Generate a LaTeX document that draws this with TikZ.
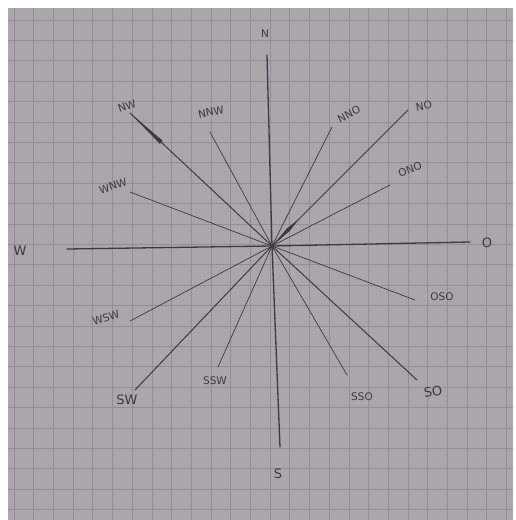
\documentclass[tikz,border=0pt]{standalone}
\usepackage{fontspec}
\setsansfont{DejaVu Sans}
\usetikzlibrary{calc}
\definecolor{paper}{RGB}{170,167,171}
\definecolor{gridline}{RGB}{145,142,148}
\definecolor{ink}{RGB}{58,58,64}
\tikzset{
  ray-main/.style={draw=ink,line width=1.3pt,line cap=round},
  ray-half/.style={draw=ink,line width=1.0pt,line cap=round},
  ray-quarter/.style={draw=ink,line width=0.7pt,line cap=round},
  lbl/.style={text=ink,font=\sffamily\fontsize{10.5}{10.5}\selectfont,inner sep=1pt},
  lbl-big/.style={text=ink,font=\sffamily\fontsize{13}{13}\selectfont,inner sep=1pt},
}

\begin{document}
\begin{tikzpicture}[x=1pt,y=-1pt]

  \useasboundingbox (0,0) rectangle (516,520);
  \fill[white] (0,0) rectangle (516,520);
  \fill[paper] (8,8) rectangle (513,520);

  % squared paper
  \foreach \gx in {0,...,25}
    \draw[gridline,line width=0.8pt] ({14+19.7*\gx},8) -- ({14+19.7*\gx},520);
  \foreach \gy in {0,...,25}
    \draw[gridline,line width=0.8pt] (8,{20+20.4*\gy}) -- (513,{20+20.4*\gy});

  % centre of the rose
  \coordinate (c) at (272,246);

  % ray ends
  \coordinate (eN)   at (267,55);
  \coordinate (eS)   at (280,447);
  \coordinate (eW)   at (67,249);
  \coordinate (eO)   at (470,242);
  \coordinate (eNW)  at (130,113);
  \coordinate (eNO)  at (408,110);
  \coordinate (eSW)  at (135,390);
  \coordinate (eSO)  at (417,380);
  \coordinate (eNNW) at (210,132);
  \coordinate (eNNO) at (332,127);
  \coordinate (eWNW) at (130,192);
  \coordinate (eONO) at (390,185);
  \coordinate (eWSW) at (130,321);
  \coordinate (eOSO) at (415,300);
  \coordinate (eSSW) at (218,367);
  \coordinate (eSSO) at (347,375);

  % labels
  \node[lbl]     (lN)   at (265,34)  {N};
  \node[lbl-big] (lS)   at (278,474) {S};
  \node[lbl-big] (lW)   at (20,251)  {W};
  \node[lbl-big] (lO)   at (487,243) {O};
  \node[lbl,rotate=20]  (lNW)  at (127,106) {NW};
  \node[lbl,rotate=10]  (lNO)  at (424,106) {NO};
  \node[lbl-big] (lSW)  at (127,400) {SW};
  \node[lbl-big,rotate=8] (lSO)  at (433,392) {SO};
  \node[lbl,rotate=12]  (lNNW) at (211,112) {NNW};
  \node[lbl,rotate=28]  (lNNO) at (349,114) {NNO};
  \node[lbl,rotate=18]  (lWNW) at (113,186) {WNW};
  \node[lbl,rotate=22]  (lONO) at (410,169) {ONO};
  \node[lbl,rotate=18]  (lWSW) at (106,318) {WSW};
  \node[lbl]     (lOSO) at (442,297) {OSO};
  \node[lbl]     (lSSW) at (215,381) {SSW};
  \node[lbl]     (lSSO) at (362,397) {SSO};

  % main rays
  \draw[ray-main] (eN) -- (c) -- (eS);
  \draw[ray-main] (eW) -- (c) -- (eO);

  % half rays
  \draw[ray-half] (eNW) -- (c) -- (eSO);
  \draw[ray-half] (eNO) -- (c) -- (eSW);
  \fill[ink] (eNW) -- ($(eNW)!0.22!(c)+(1.5,-1.5)$) -- ($(eNW)!0.22!(c)$) -- ($(eNW)!0.22!(c)+(-1.5,1.5)$) -- cycle;
  \fill[ink] (c) -- ($(c)!0.12!(eNO)+(1.3,1.3)$) -- ($(c)!0.2!(eNO)$) -- ($(c)!0.12!(eNO)+(-1.3,-1.3)$) -- cycle;

  % quarter rays
  \draw[ray-quarter] (eNNW) -- (c);
  \draw[ray-quarter] (eNNO) -- (c);
  \draw[ray-quarter] (eWNW) -- (c);
  \draw[ray-quarter] (eONO) -- (c);
  \draw[ray-quarter] (eWSW) -- (c);
  \draw[ray-quarter] (eOSO) -- (c);
  \draw[ray-quarter] (eSSW) -- (c);
  \draw[ray-quarter] (eSSO) -- (c);

\end{tikzpicture}
\end{document}
